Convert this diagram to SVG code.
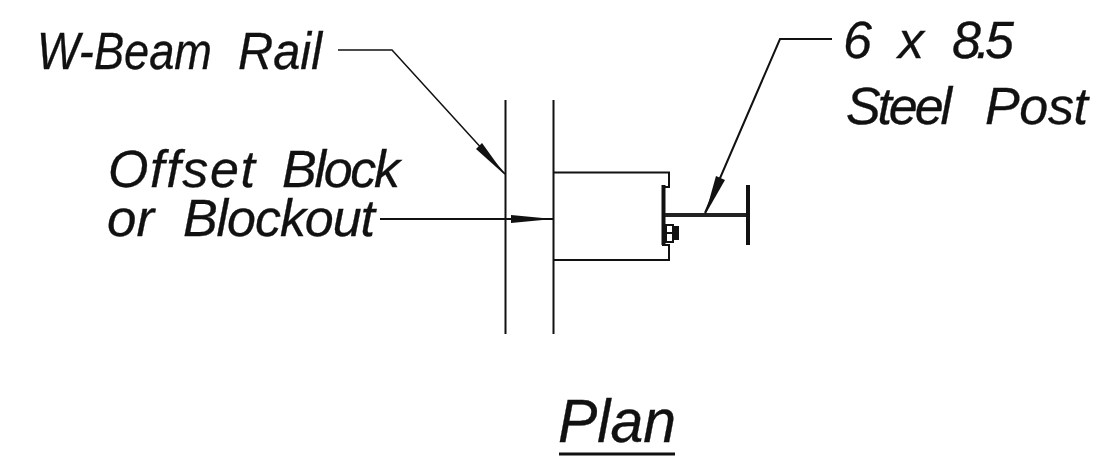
<svg xmlns="http://www.w3.org/2000/svg" width="1100" height="463" viewBox="0 0 1100 463">
<style>
.t{font-family:"Liberation Sans",Arial,sans-serif;font-style:italic;font-size:52px;fill:#111;stroke:#111;stroke-width:.3}
.l{fill:none;stroke:#111;stroke-width:2}
.a{fill:#111;stroke:none}
</style>
<rect width="1100" height="463" fill="#fff"/>
<g id="rail"><path class="l" d="M505.500 100V334M553.500 100V334"/></g>
<g id="block"><path class="l" d="M554 172.500H669V187H662M554 260H669V245H662"/></g>
<g id="post"><path d="M663.500 185V245" fill="none" stroke="#111" stroke-width="4"/><path d="M665 215H747" fill="none" stroke="#222" stroke-width="4"/><path d="M748 185V245" fill="none" stroke="#111" stroke-width="4"/></g>
<g id="bolt"><rect x="666" y="225" width="7" height="8" fill="#fff" stroke="#111" stroke-width="2"/><rect x="666" y="233" width="7" height="9" fill="#fff" stroke="#111" stroke-width="2"/><rect x="673" y="226" width="6" height="14" fill="#111"/></g>
<g id="connectors">
<path class="l" d="M338 50H392L505 174" style="stroke-width:1.500"/><polygon class="a" points="505,175 476,149 482,143"/>
<path class="l" d="M380 219H553"/><polygon class="a" points="553,219 511,215 511,223"/>
<path class="l" d="M832 39H780L705 213"/><polygon class="a" points="705,215 716,176 725,180"/>
</g>
<g id="labels">
<text class="t" y="69"><tspan x="37" textLength="175" lengthAdjust="spacingAndGlyphs">W-Beam</tspan> <tspan x="238" textLength="84" lengthAdjust="spacingAndGlyphs">Rail</tspan></text>
<text class="t" y="187"><tspan x="108" textLength="147" lengthAdjust="spacing">Offset</tspan> <tspan x="282" textLength="118" lengthAdjust="spacing">Block</tspan></text>
<text class="t" y="236"><tspan x="107" textLength="47" lengthAdjust="spacingAndGlyphs">or</tspan> <tspan x="183" textLength="192" lengthAdjust="spacing">Blockout</tspan></text>
<text class="t" y="58"><tspan x="843">6</tspan> <tspan x="898">x</tspan> <tspan x="952" textLength="62" lengthAdjust="spacing">8.5</tspan></text>
<text class="t" y="124"><tspan x="846" textLength="106" lengthAdjust="spacing">Steel</tspan> <tspan x="985" textLength="103" lengthAdjust="spacing">Post</tspan></text>
<text class="t" x="558" y="442" style="font-size:62px" textLength="118" lengthAdjust="spacingAndGlyphs">Plan</text>
<path d="M559 454H675" fill="none" stroke="#111" stroke-width="3"/>
</g>
</svg>
